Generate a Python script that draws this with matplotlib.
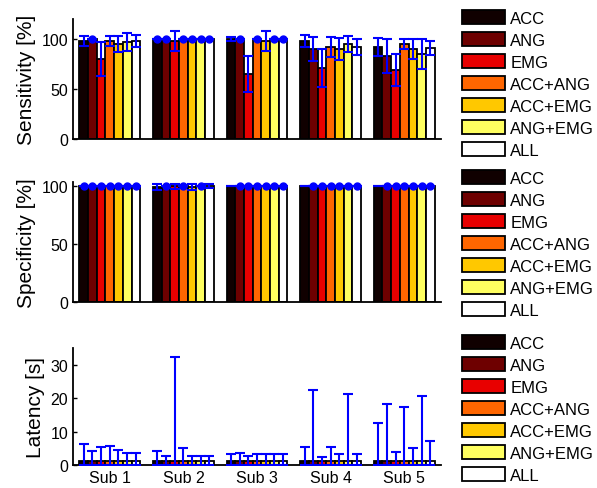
import numpy as np
import matplotlib
matplotlib.use("Agg")
import matplotlib.pyplot as plt

plt.rcParams['font.family'] = ['Liberation Sans', 'DejaVu Sans']

subjects = ["Sub 1", "Sub 2", "Sub 3", "Sub 4", "Sub 5"]
methods = ["ACC", "ANG", "EMG", "ACC+ANG", "ACC+EMG", "ANG+EMG", "ALL"]
colors = ["#100000", "#6e0000", "#e80000", "#ff6600", "#ffc800", "#ffff60", "#ffffff"]

# rows = subjects, columns = methods
sens_mean = np.array([
    [98, 100, 80, 98, 95, 97, 98],
    [100, 100, 98, 100, 100, 100, 100],
    [100, 100, 65, 100, 98, 100, 100],
    [98, 90, 71, 92, 90, 95, 92],
    [92, 83, 69, 95, 90, 85, 91],
])
sens_std = np.array([
    [5, 0, 17, 5, 8, 9, 6],
    [0, 0, 10, 0, 0, 0, 0],
    [2, 0, 18, 0, 10, 0, 0],
    [6, 12, 19, 10, 11, 8, 8],
    [9, 17, 16, 5, 10, 15, 7],
])

spec_mean = np.array([
    [100, 100, 100, 100, 100, 100, 100],
    [99, 100, 99.6, 100, 99, 100, 100],
    [100, 100, 100, 100, 100, 100, 100],
    [100, 100, 100, 100, 100, 100, 100],
    [100, 100, 100, 100, 100, 100, 100],
])
spec_std = np.array([
    [0, 0, 0, 0, 0, 0, 0],
    [2.6, 0, 2.1, 0, 2.5, 0, 1.7],
    [0.3, 0, 0, 0, 0, 0, 0],
    [0.3, 0, 0, 0, 0, 0, 0],
    [0.3, 0, 0, 0, 0, 0, 0],
])

lat_mean = np.array([
    [1.3, 1.3, 1.3, 1.3, 1.3, 1.3, 1.3],
    [1.3, 1.3, 1.3, 1.3, 1.3, 1.3, 1.3],
    [1.3, 1.3, 1.3, 1.3, 1.3, 1.3, 1.3],
    [1.3, 1.3, 1.3, 1.3, 1.3, 1.3, 1.3],
    [1.3, 1.3, 1.3, 1.3, 1.3, 1.3, 1.3],
])
lat_top = np.array([
    [6.2, 4.2, 5.3, 5.7, 4.5, 3.7, 3.6],
    [4.2, 2.7, 32.2, 5.2, 2.7, 2.7, 2.7],
    [3.2, 3.5, 2.7, 3.2, 3.2, 3.2, 3.2],
    [5.4, 22.3, 2.5, 5.4, 3.3, 21.3, 3.3],
    [12.5, 18.3, 4.0, 17.3, 5.0, 20.5, 7.1],
])

W, H = 597, 489
fig = plt.figure(figsize=(W / 100, H / 100), dpi=100)

def px_axes(top, bottom):
    return fig.add_axes([73 / W, 1 - bottom / H, 368 / W, (bottom - top) / H])

panels = [
    (20, 140, sens_mean, sens_std, sens_std, 120, [0, 50, 100], "Sensitivity [%]", 11),
    (183, 303, spec_mean, spec_std, spec_std, 103.4, [0, 50, 100], "Specificity [%]", 171),
    (349, 466, lat_mean, lat_mean, lat_top - lat_mean, 35, [0, 10, 20, 30], "Latency [s]", 336),
]

x = np.arange(1, 6)
bw = 0.118
for i, (top, bottom, mean, lo, hi, ymax, yt, ylab, leg_top) in enumerate(panels):
    ax = px_axes(top, bottom)
    handles = []
    for j in range(len(methods)):
        xs = x + (j - 3) * bw
        b = ax.bar(xs, mean[:, j], width=bw, color=colors[j], edgecolor='black',
                   linewidth=1.3, label=methods[j], zorder=2)
        handles.append(b)
        ax.errorbar(xs, mean[:, j], yerr=[lo[:, j], hi[:, j]], fmt='none', ecolor='blue',
                    elinewidth=1.5, capsize=3.5, capthick=1.5, zorder=3)
        if i < 2:
            flat = (lo[:, j] == 0) & (hi[:, j] == 0)
            ax.plot(xs[flat], mean[flat, j], 'o', color='blue', markersize=5, zorder=4,
                    clip_on=False)
    ax.set_xlim(0.5, 5.5)
    ax.set_ylim(0, ymax)
    ax.set_yticks(yt)
    ax.set_ylabel(ylab, fontsize=15, labelpad=4)
    ax.tick_params(axis='both', direction='in', labelsize=11.5, length=3, width=1)
    ax.spines['top'].set_visible(False)
    ax.spines['right'].set_visible(False)
    ax.spines['left'].set_linewidth(1.3)
    ax.spines['bottom'].set_linewidth(1.3)
    ax.set_xticks(x)
    if i < 2:
        ax.set_xticklabels([])
        ax.tick_params(axis='x', length=0)
    else:
        ax.set_xticklabels(subjects)
    fig.legend(handles=handles, labels=methods, loc='upper left',
               bbox_to_anchor=(462 / W, 1 - leg_top / H), frameon=False,
               fontsize=12, handlelength=2.6, handleheight=0.9,
               handletextpad=0.3, labelspacing=0.38, borderpad=0, borderaxespad=0)

fig.savefig("out.png", dpi=100)
